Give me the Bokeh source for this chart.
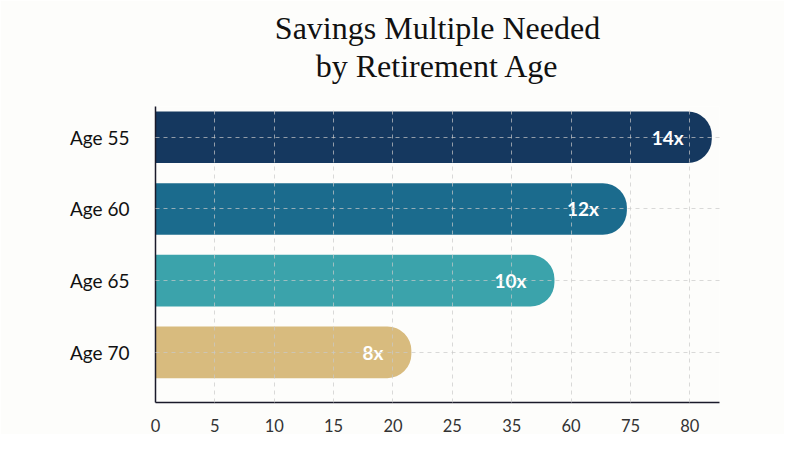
from bokeh.plotting import figure
from bokeh.models import ColumnDataSource, Range1d, FixedTicker, Title
from bokeh.embed import file_html
from bokeh.resources import INLINE

# data
ages = ["Age 55", "Age 60", "Age 65", "Age 70"]
multiples = ["14x", "12x", "10x", "8x"]
bar_end = [9.37, 7.94, 6.72, 4.31]          # in tick-slot units of the x axis
x_tick_labels = ["0", "5", "10", "15", "20", "25", "35", "60", "75", "80"]
colors = ["#15385f", "#1b6b8d", "#3ba3ab", "#d8bb7e"]

ypos = list(range(len(ages) - 1, -1, -1))

src = ColumnDataSource(dict(y=ypos, right=bar_end, label=multiples, color=colors, age=ages))

p = figure(width=784, height=434, output_backend="svg", toolbar_location=None,
           x_range=Range1d(0, 9.5), y_range=Range1d(-0.70, 3.43),
           min_border_left=155, min_border_right=65, min_border_top=106, min_border_bottom=24,
           background_fill_color="#fdfdfb", border_fill_color="#fdfdfb")
p.outline_line_color = None

# titles stack upward from the frame: a blank spacer first, then line 2, then line 1
p.add_layout(Title(text=" ", text_font_size="19px", standoff=0), "above")
p.add_layout(Title(text="by Retirement Age", align="center", text_font="Liberation Serif",
                   text_font_size="32px", text_font_style="normal", text_color="#111111",
                   standoff=0), "above")
p.add_layout(Title(text="Savings Multiple Needed", align="center", text_font="Liberation Serif",
                   text_font_size="32px", text_font_style="normal", text_color="#111111",
                   standoff=0), "above")

p.hbar(y="y", left=0, right="right", height=0.72, color="color", line_color=None,
       border_radius=(0, 24, 24, 0), source=src)

p.text(x="right", y="y", text="label", source=src, text_align="right", text_baseline="middle",
       x_offset=-28, text_color="white", text_font_size="19px", text_font_style="bold",
       text_font={"value": "Lato"})

p.xaxis.ticker = FixedTicker(ticks=list(range(len(x_tick_labels))))
p.xaxis.major_label_overrides = {i: t for i, t in enumerate(x_tick_labels)}
p.yaxis.ticker = FixedTicker(ticks=ypos)
p.yaxis.major_label_overrides = {y: a for y, a in zip(ypos, ages)}

for ax in (p.xaxis, p.yaxis):
    ax.axis_line_color = "#1a1a2a"
    ax.axis_line_width = 1.5
    ax.major_tick_line_color = None
    ax.minor_tick_line_color = None
    ax.major_label_text_font = "Lato"
p.xaxis.major_label_text_font_size = "16.5px"
p.xaxis.major_label_text_color = "#333333"
p.xaxis.major_label_standoff = 10
p.yaxis.major_label_text_font_size = "19px"
p.yaxis.major_label_text_color = "#111111"
p.yaxis.major_label_standoff = 20

p.grid.grid_line_color = "#c9c9c9"
p.grid.grid_line_dash = "4 4"
p.grid.grid_line_alpha = 0.7
p.grid.level = "annotation"
p.ygrid.ticker = FixedTicker(ticks=ypos)

open("out.html", "w").write(file_html(p, INLINE))
